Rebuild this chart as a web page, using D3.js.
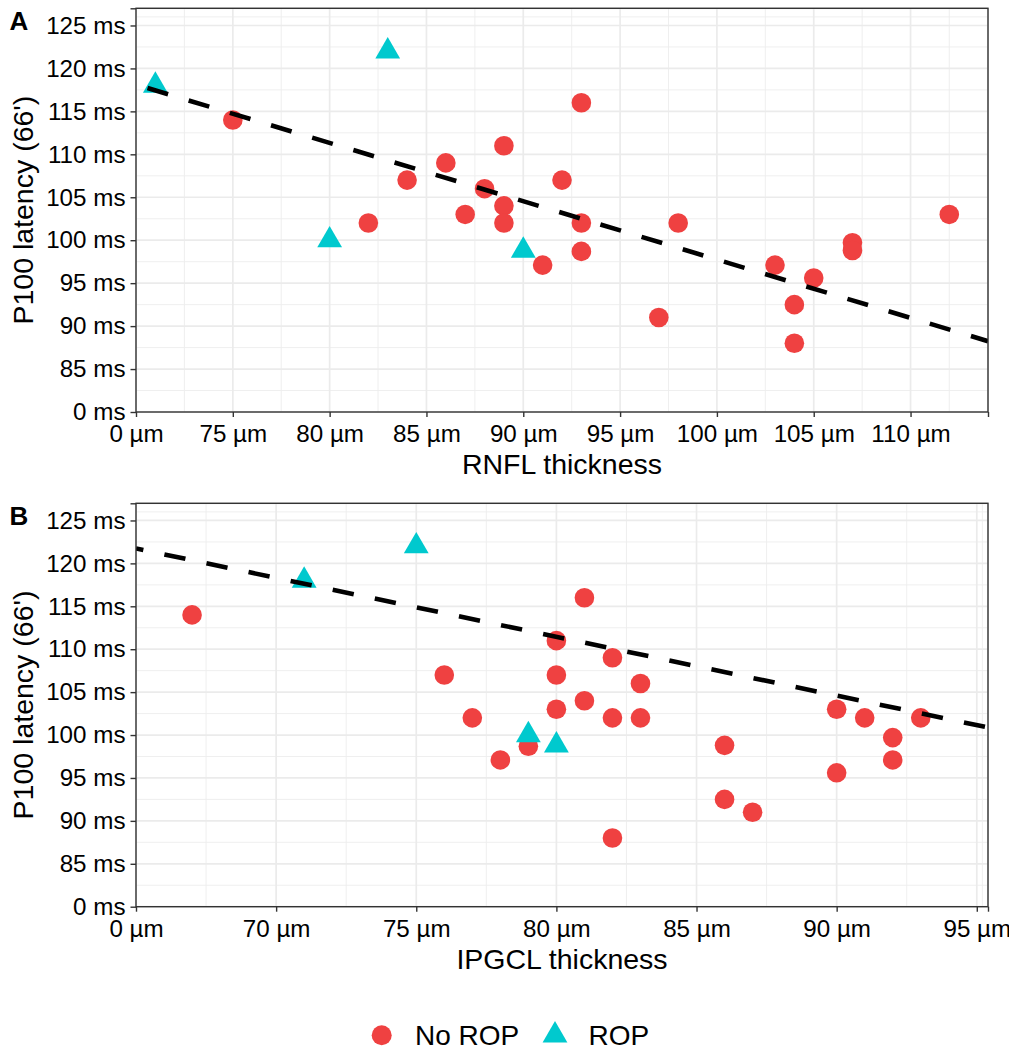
<!DOCTYPE html>
<html><head><meta charset="utf-8">
<script src="https://cdn.jsdelivr.net/npm/d3@7"></script>
<style>body{margin:0;background:#fff} svg{display:block} text{font-family:"Liberation Sans",Arial,sans-serif}</style>
</head><body><svg id="c" width="1009" height="1051"></svg>
<script>
const groups = ["No ROP", "ROP"];
const colors = ["#EF4141", "#00C9CE"];
// Panel A: RNFL thickness vs P100 latency
const rnflNoROP  = [75, 82, 84, 86, 87, 88, 89, 89, 89, 91, 92, 93, 93, 93, 97, 98, 103, 104, 104, 105, 107, 107, 112];
const latNoROP_A = [114, 102, 107, 109, 103, 106, 111, 104, 102, 97.1, 107, 116, 102, 98.7, 91, 102, 97.1, 92.5, 88, 95.6, 99.7, 98.8, 103];
const rnflROP    = [71, 83, 80, 90];
const latROP_A   = [118, 122, 100, 98.8];
// Panel B: IPGCL thickness vs P100 latency
const ipgclNoROP = [67, 76, 77, 78, 79, 80, 80, 80, 81, 81, 82, 82, 82, 83, 83, 86, 86, 87, 90, 90, 91, 92, 92, 93];
const latNoROP_B = [114, 107, 102, 97.1, 98.7, 111, 107, 103, 116, 104, 109, 102, 88, 106, 102, 98.8, 92.5, 91, 103, 95.6, 102, 99.7, 97.1, 102];
const ipgclROP   = [71, 75, 79, 80];
const latROP_B   = [118, 122, 100, 98.8];
// Axis ticks
const xTicksA  = [70, 75, 80, 85, 90, 95, 100, 105, 110, 114];
const xLabelsA = ["0 µm", "75 µm", "80 µm", "85 µm", "90 µm", "95 µm", "100 µm", "105 µm", "110 µm", ""];
const xTicksB  = [65, 70, 75, 80, 85, 90, 95, 95.4];
const xLabelsB = ["0 µm", "70 µm", "75 µm", "80 µm", "85 µm", "90 µm", "95 µm", ""];
const yTicks   = [80, 85, 90, 95, 100, 105, 110, 115, 120, 125, 127];
const yLabels  = ["0 ms", "85 ms", "90 ms", "95 ms", "100 ms", "105 ms", "110 ms", "115 ms", "120 ms", "125 ms", ""];
// Linear fits (value at first x tick, slope)
const fitA = {x0: 70, y0: 118.12, slope: -0.679};
const fitB = {x0: 65, y0: 121.74, slope: -0.686};

const svg = d3.select("#c");
const L = 136, R = 988;
const tickFont = "24.2px", titleFont = "28.5px";

function panel(cfg) {
  const g = svg.append("g");
  const x = d3.scaleLinear().domain([cfg.xt[0], cfg.xt[cfg.xt.length - 1]]).range([L, R]);
  const y = d3.scaleLinear().domain([yTicks[0], yTicks[yTicks.length - 1]]).range([cfg.bottom, cfg.top]);
  const mid = a => a.slice(1).map((v, i) => (v + a[i]) / 2);
  // minor grid
  g.selectAll(".mx").data(mid(cfg.xt)).join("line")
    .attr("x1", d => x(d)).attr("x2", d => x(d)).attr("y1", cfg.top).attr("y2", cfg.bottom)
    .attr("stroke", "#EDEDED").attr("stroke-width", 0.9);
  g.selectAll(".my").data(mid(yTicks)).join("line")
    .attr("y1", d => y(d)).attr("y2", d => y(d)).attr("x1", L).attr("x2", R)
    .attr("stroke", "#EDEDED").attr("stroke-width", 0.9);
  // major grid
  g.selectAll(".Mx").data(cfg.xt).join("line")
    .attr("x1", d => x(d)).attr("x2", d => x(d)).attr("y1", cfg.top).attr("y2", cfg.bottom)
    .attr("stroke", "#EBEBEB").attr("stroke-width", 1.7);
  g.selectAll(".My").data(yTicks).join("line")
    .attr("y1", d => y(d)).attr("y2", d => y(d)).attr("x1", L).attr("x2", R)
    .attr("stroke", "#EBEBEB").attr("stroke-width", 1.7);
  // clip
  const cid = "clip" + cfg.tag;
  svg.append("clipPath").attr("id", cid).append("rect")
    .attr("x", L).attr("y", cfg.top).attr("width", R - L).attr("height", cfg.bottom - cfg.top);
  const pg = g.append("g").attr("clip-path", `url(#${cid})`);
  // points
  pg.selectAll(".c").data(cfg.nx.map((v, i) => [v, cfg.ny[i]])).join("circle")
    .attr("cx", d => x(d[0])).attr("cy", d => y(d[1])).attr("r", 9.8).attr("fill", colors[0]);
  pg.selectAll(".t").data(cfg.rx.map((v, i) => [v, cfg.ry[i]])).join("path")
    .attr("d", d3.symbol(d3.symbolTriangle, 266))
    .attr("transform", d => `translate(${x(d[0])},${y(d[1])})`).attr("fill", colors[1]);
  // fit line
  const xd = x.domain();
  const f = cfg.fit;
  pg.append("line")
    .attr("x1", x(xd[0])).attr("y1", y(f.y0 + f.slope * (xd[0] - f.x0)))
    .attr("x2", x(xd[1])).attr("y2", y(f.y0 + f.slope * (xd[1] - f.x0)))
    .attr("stroke", "#000").attr("stroke-width", 4.6)
    .attr("stroke-dasharray", "21.5,21.5").attr("stroke-dashoffset", cfg.dashOff);
  // border
  g.append("rect").attr("x", L).attr("y", cfg.top).attr("width", R - L).attr("height", cfg.bottom - cfg.top)
    .attr("fill", "none").attr("stroke", "#333").attr("stroke-width", 1.4);
  // axes
  const ax = g.append("g").attr("transform", `translate(0,${cfg.bottom})`)
    .call(d3.axisBottom(x).tickValues(cfg.xt).tickFormat((d, i) => cfg.xl[i]).tickSize(5).tickSizeOuter(0).tickPadding(8));
  const ay = g.append("g").attr("transform", `translate(${L},0)`)
    .call(d3.axisLeft(y).tickValues(yTicks).tickFormat((d, i) => yLabels[i]).tickSize(5.5).tickSizeOuter(0).tickPadding(5));
  [ax, ay].forEach(a => {
    a.select(".domain").remove();
    a.selectAll(".tick line").attr("stroke", "#333").attr("stroke-width", 1.4);
    a.selectAll(".tick text").attr("fill", "#000").style("font-size", tickFont);
  });
  // titles
  g.append("text").attr("x", (L + R) / 2).attr("y", cfg.bottom + 62).attr("text-anchor", "middle")
    .style("font-size", titleFont).attr("fill", "#000").text(cfg.xtitle);
  g.append("text").attr("transform", `translate(33,${(cfg.top + cfg.bottom) / 2}) rotate(-90)`)
    .attr("text-anchor", "middle").style("font-size", titleFont).attr("fill", "#000").text("P100 latency (66')");
  g.append("text").attr("x", 9.5).attr("y", cfg.top + 21.3).style("font-size", "26px").style("font-weight", "bold")
    .attr("fill", "#000").text(cfg.tag);
}

panel({tag: "A", top: 8.3, bottom: 412, xt: xTicksA, xl: xLabelsA, nx: rnflNoROP, ny: latNoROP_A,
       rx: rnflROP, ry: latROP_A, fit: fitA, xtitle: "RNFL thickness", dashOff: 31});
panel({tag: "B", top: 503.3, bottom: 906.7, xt: xTicksB, xl: xLabelsB, nx: ipgclNoROP, ny: latNoROP_B,
       rx: ipgclROP, ry: latROP_B, fit: fitB, xtitle: "IPGCL thickness", dashOff: 14});

// legend
const lg = svg.append("g");
lg.append("circle").attr("cx", 381.7).attr("cy", 1035.3).attr("r", 10).attr("fill", colors[0]);
lg.append("text").attr("x", 415).attr("y", 1045).style("font-size", "28px").attr("fill", "#000").text(groups[0]);
lg.append("path").attr("d", d3.symbol(d3.symbolTriangle, 266)).attr("transform", "translate(555,1035.3)").attr("fill", colors[1]);
lg.append("text").attr("x", 588.5).attr("y", 1045).style("font-size", "28px").attr("fill", "#000").text(groups[1]);
</script></body></html>
